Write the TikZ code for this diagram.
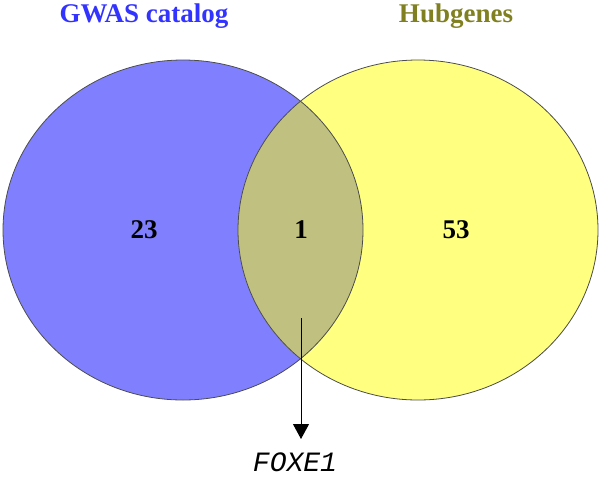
\documentclass[tikz,border=0pt]{standalone}
\usepackage{fontspec}
\setmainfont{Liberation Serif}
\newfontfamily\courfont{Liberation Mono}
\usepackage{tikz}
\usetikzlibrary{positioning}
\usetikzlibrary{arrows.meta}
\definecolor{gwasfill}{RGB}{128,128,255}
\definecolor{hubfill}{RGB}{255,255,128}
\definecolor{bothfill}{RGB}{192,192,128}
\definecolor{gwastext}{RGB}{51,51,255}
\definecolor{hubtext}{RGB}{128,128,32}

\begin{document}
\begin{tikzpicture}[x=1pt, y=-1pt,
every node/.style = {font=\fontsize{27}{27}\selectfont\bfseries, anchor=base},
  setline/.style = {draw=black!70, line width=0.8pt}
]
\useasboundingbox (0,0) rectangle (599,477);
% the two sets
\fill[gwasfill] (183,230) ellipse [x radius=180, y radius=170];
\fill[hubfill] (418,230) ellipse [x radius=180, y radius=170];
\begin{scope}
  \clip (183,230) ellipse [x radius=180, y radius=170];
  \fill[bothfill] (418,230) ellipse [x radius=180, y radius=170];
\end{scope}
\draw[setline] (183,230) ellipse [x radius=180, y radius=170];
\draw[setline] (418,230) ellipse [x radius=180, y radius=170];
% titles
\node[text=gwastext] (gwas) at (144,22) {GWAS catalog};
\node[text=hubtext] (hub) at (456,22) {Hubgenes};
% counts
\node (onlygwas) at (144,238) {23};
\node (shared) at (301,238) {1};
\node (onlyhub) at (456,238) {53};
% shared gene
\node[font=\fontsize{28}{28}\selectfont\courfont\itshape, inner sep=0pt] (foxe) at (295,471) {FOXE1};
\coordinate (tail) at (301,318);
\coordinate (head) at (301,439);
\draw[line width=1pt, -{Triangle[width=16pt, length=15pt]}] (tail) -- (head);
\end{tikzpicture}
\end{document}
